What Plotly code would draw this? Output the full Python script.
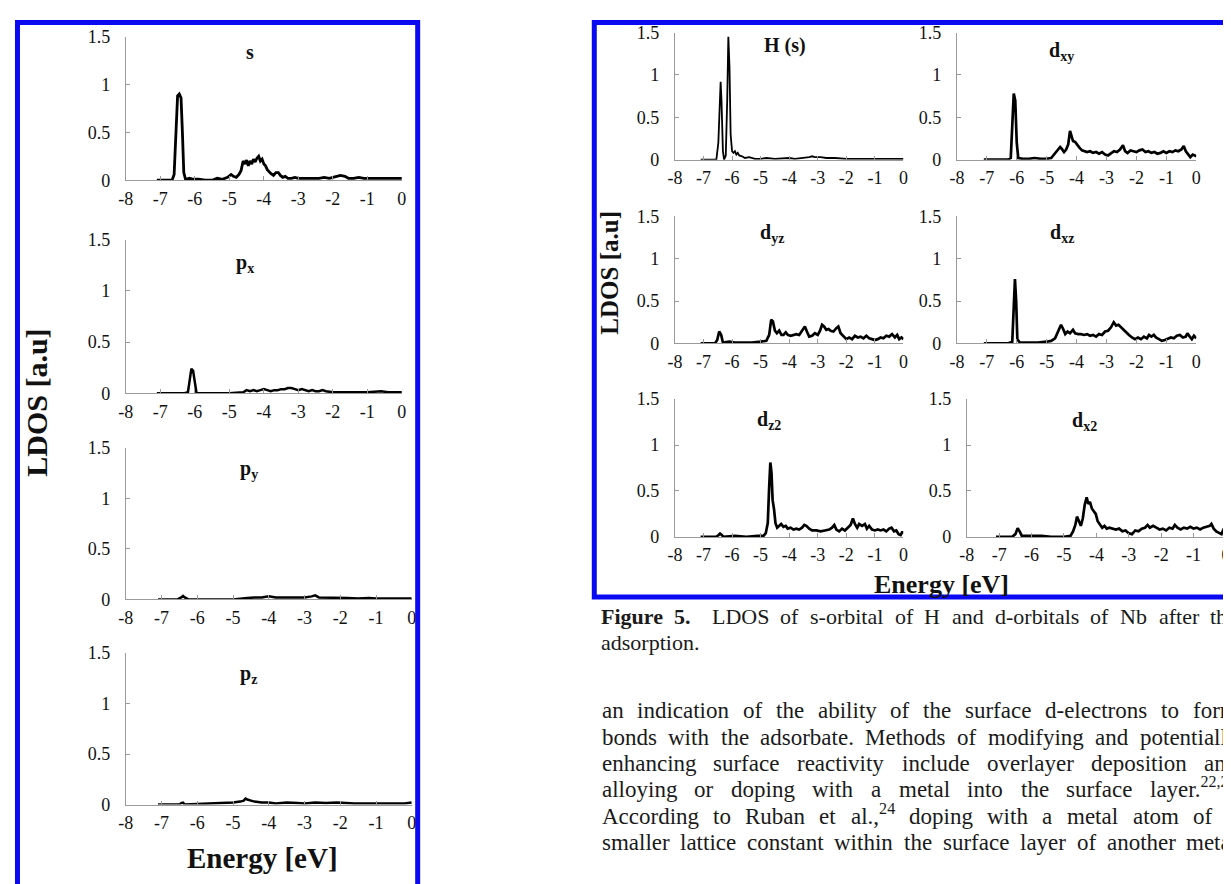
import re
import plotly.graph_objects as go

FONT = "Liberation Serif"
OFF = 8                      # default page margin of the html body
FIG_W, FIG_H = 1231 - OFF, 884 - OFF

# ---------------- data (energy [eV], LDOS [a.u]) ----------------
ENERGY_TICKS = [-8, -7, -6, -5, -4, -3, -2, -1, 0]
ENERGY_TICK_TEXT = ["-8", "-7", "-6", "-5", "-4", "-3", "-2", "-1", "0"]
LDOS_TICKS = [0, 0.5, 1, 1.5]
LDOS_TICK_TEXT = ["0", "0.5", "1", "1.5"]

LDOS_S = [(-7.1,0.0),(-6.66,0.0),(-6.6,0.06),(-6.55,0.45),(-6.5,0.88),(-6.45,0.9),(-6.4,0.86),(-6.36,0.5),
          (-6.32,0.08),(-6.27,0.01),(-6.15,0.02),(-6.05,0.01),(-5.9,0.01),(-5.7,0.0),(-5.5,0.0),(-5.35,0.02),
          (-5.2,0.01),(-5.05,0.03),(-4.95,0.06),(-4.88,0.04),(-4.8,0.03),(-4.72,0.06),(-4.66,0.1),(-4.6,0.2),
          (-4.55,0.17),(-4.5,0.21),(-4.45,0.15),(-4.4,0.2),(-4.35,0.17),(-4.3,0.22),(-4.25,0.19),(-4.2,0.23),
          (-4.15,0.25),(-4.1,0.2),(-4.05,0.22),(-4.0,0.17),(-3.95,0.15),(-3.9,0.11),(-3.85,0.09),(-3.8,0.07),
          (-3.72,0.05),(-3.65,0.08),(-3.58,0.08),(-3.52,0.05),(-3.45,0.03),(-3.38,0.04),(-3.3,0.02),(-3.2,0.02),
          (-3.1,0.03),(-3.0,0.02),(-2.8,0.02),(-2.6,0.02),(-2.4,0.02),(-2.25,0.03),(-2.1,0.02),(-2.0,0.03),
          (-1.9,0.04),(-1.78,0.05),(-1.65,0.04),(-1.55,0.02),(-1.4,0.02),(-1.25,0.03),(-1.1,0.02),(-0.9,0.02),
          (-0.7,0.02),(-0.5,0.02),(-0.3,0.02),(-0.1,0.02),(0.0,0.02)]

LDOS_PX = [(-7.1,0.0),(-6.3,0.0),(-6.2,0.01),(-6.15,0.12),(-6.1,0.24),(-6.05,0.22),(-6.0,0.08),(-5.95,0.0),
           (-5.0,0.0),(-4.6,0.01),(-4.5,0.03),(-4.4,0.02),(-4.3,0.03),(-4.2,0.02),(-4.1,0.03),(-4.0,0.04),
           (-3.9,0.03),(-3.8,0.02),(-3.7,0.03),(-3.6,0.03),(-3.5,0.04),(-3.4,0.04),(-3.3,0.05),(-3.2,0.05),
           (-3.1,0.04),(-3.0,0.03),(-2.9,0.04),(-2.8,0.03),(-2.7,0.02),(-2.6,0.03),(-2.5,0.02),(-2.4,0.02),
           (-2.3,0.03),(-2.2,0.02),(-2.0,0.01),(-1.8,0.01),(-1.5,0.01),(-1.0,0.01),(-0.6,0.02),(-0.4,0.01),
           (0.0,0.01)]

LDOS_PY = [(-7.1,0.0),(-6.55,0.0),(-6.45,0.02),(-6.4,0.035),(-6.35,0.02),(-6.25,0.0),(-5.0,0.0),(-4.8,0.01),
           (-4.6,0.015),(-4.4,0.02),(-4.2,0.02),(-4.0,0.03),(-3.8,0.02),(-3.6,0.02),(-3.4,0.02),(-3.2,0.02),
           (-3.0,0.02),(-2.8,0.03),(-2.7,0.04),(-2.6,0.02),(-2.4,0.02),(-2.2,0.02),(-2.0,0.02),(-1.8,0.015),
           (-1.5,0.01),(-1.2,0.015),(-1.0,0.01),(-0.6,0.01),(-0.3,0.015),(0.0,0.01)]

LDOS_PZ = [(-7.1,0.0),(-6.5,0.0),(-6.45,0.015),(-6.4,0.02),(-6.35,0.0),(-6.0,0.005),(-5.5,0.01),(-5.2,0.01),
           (-5.0,0.02),(-4.8,0.03),(-4.7,0.04),(-4.65,0.06),(-4.6,0.05),(-4.5,0.04),(-4.4,0.03),(-4.2,0.02),
           (-4.0,0.02),(-3.8,0.01),(-3.5,0.02),(-3.2,0.015),(-3.0,0.01),(-2.7,0.02),(-2.4,0.015),(-2.1,0.02),
           (-1.9,0.015),(-1.6,0.01),(-1.3,0.01),(-1.0,0.01),(-0.5,0.01),(-0.2,0.01),(0.0,0.02)]

LDOS_H_S = [(-7.1,0.0),(-6.55,0.0),(-6.48,0.2),(-6.43,0.7),(-6.4,0.92),(-6.37,0.7),(-6.32,0.1),(-6.28,0.0),
            (-6.22,0.05),(-6.17,0.7),(-6.13,1.45),(-6.09,1.1),(-6.05,0.3),(-6.0,0.1),(-5.95,0.08),(-5.9,0.1),
            (-5.85,0.06),(-5.8,0.08),(-5.75,0.05),(-5.65,0.04),(-5.55,0.02),(-5.4,0.03),(-5.2,0.01),(-5.0,0.01),
            (-4.8,0.02),(-4.5,0.01),(-4.2,0.02),(-4.0,0.02),(-3.8,0.01),(-3.5,0.02),(-3.3,0.03),(-3.2,0.04),
            (-3.1,0.03),(-2.9,0.03),(-2.7,0.02),(-2.4,0.02),(-2.0,0.01),(-1.5,0.01),(-1.0,0.01),(-0.5,0.01),
            (0.0,0.01)]

LDOS_DXY = [(-7.1,0.0),(-6.3,0.0),(-6.2,0.02),(-6.15,0.5),(-6.1,0.78),(-6.05,0.7),(-6.0,0.2),(-5.95,0.02),
            (-5.8,0.01),(-5.6,0.01),(-5.4,0.02),(-5.2,0.01),(-5.0,0.01),(-4.85,0.02),(-4.75,0.06),(-4.65,0.1),
            (-4.55,0.15),(-4.5,0.13),(-4.42,0.09),(-4.35,0.12),(-4.28,0.18),(-4.22,0.34),(-4.17,0.28),(-4.12,0.22),
            (-4.05,0.21),(-3.98,0.17),(-3.9,0.14),(-3.82,0.11),(-3.75,0.1),(-3.65,0.09),(-3.55,0.1),(-3.45,0.08),
            (-3.35,0.09),(-3.25,0.07),(-3.15,0.09),(-3.05,0.06),(-2.95,0.05),(-2.85,0.08),(-2.75,0.1),(-2.65,0.09),
            (-2.55,0.12),(-2.45,0.17),(-2.38,0.1),(-2.3,0.08),(-2.2,0.11),(-2.1,0.1),(-2.0,0.09),(-1.9,0.11),
            (-1.8,0.12),(-1.7,0.09),(-1.6,0.1),(-1.5,0.08),(-1.4,0.09),(-1.3,0.07),(-1.2,0.08),(-1.1,0.1),
            (-1.0,0.08),(-0.9,0.1),(-0.8,0.09),(-0.7,0.11),(-0.6,0.1),(-0.5,0.12),(-0.42,0.16),(-0.35,0.1),
            (-0.28,0.07),(-0.2,0.03),(-0.12,0.06),(-0.05,0.05),(0.0,0.04)]

LDOS_DYZ = [(-7.1,0.0),(-6.6,0.0),(-6.52,0.04),(-6.45,0.14),(-6.38,0.1),(-6.32,0.01),(-6.1,0.02),(-5.9,0.01),
            (-5.6,0.01),(-5.3,0.01),(-5.0,0.02),(-4.8,0.03),(-4.7,0.1),(-4.63,0.28),(-4.57,0.26),(-4.5,0.15),
            (-4.43,0.12),(-4.35,0.15),(-4.27,0.1),(-4.2,0.1),(-4.12,0.13),(-4.05,0.1),(-3.95,0.09),(-3.85,0.1),
            (-3.75,0.11),(-3.65,0.1),(-3.55,0.15),(-3.45,0.2),(-3.38,0.14),(-3.3,0.08),(-3.2,0.09),(-3.1,0.12),
            (-3.0,0.1),(-2.92,0.15),(-2.85,0.22),(-2.78,0.2),(-2.7,0.16),(-2.62,0.17),(-2.55,0.15),(-2.45,0.14),
            (-2.35,0.18),(-2.28,0.2),(-2.2,0.12),(-2.1,0.08),(-2.0,0.05),(-1.9,0.07),(-1.8,0.05),(-1.7,0.09),
            (-1.6,0.07),(-1.5,0.08),(-1.4,0.06),(-1.3,0.09),(-1.2,0.06),(-1.1,0.05),(-1.0,0.04),(-0.9,0.05),
            (-0.8,0.07),(-0.7,0.06),(-0.6,0.09),(-0.5,0.08),(-0.4,0.11),(-0.3,0.07),(-0.22,0.1),(-0.15,0.05),
            (-0.07,0.07),(0.0,0.05)]

LDOS_DXZ = [(-7.1,0.0),(-6.3,0.0),(-6.15,0.02),(-6.1,0.5),(-6.06,0.76),(-6.02,0.5),(-5.98,0.05),(-5.9,0.01),
            (-5.6,0.01),(-5.3,0.01),(-5.0,0.02),(-4.85,0.03),(-4.72,0.06),(-4.62,0.15),(-4.52,0.22),(-4.45,0.17),
            (-4.38,0.11),(-4.3,0.14),(-4.22,0.12),(-4.12,0.16),(-4.05,0.12),(-3.95,0.11),(-3.85,0.11),(-3.75,0.1),
            (-3.65,0.11),(-3.55,0.09),(-3.45,0.1),(-3.35,0.08),(-3.25,0.11),(-3.15,0.1),(-3.05,0.14),(-2.95,0.15),
            (-2.85,0.19),(-2.76,0.25),(-2.68,0.21),(-2.6,0.22),(-2.52,0.19),(-2.45,0.17),(-2.35,0.13),(-2.25,0.1),
            (-2.15,0.07),(-2.05,0.05),(-1.95,0.07),(-1.85,0.05),(-1.75,0.08),(-1.65,0.06),(-1.58,0.1),(-1.5,0.08),
            (-1.42,0.1),(-1.35,0.07),(-1.25,0.05),(-1.15,0.03),(-1.05,0.04),(-0.95,0.06),(-0.85,0.07),(-0.75,0.06),
            (-0.65,0.09),(-0.55,0.1),(-0.45,0.07),(-0.35,0.08),(-0.3,0.12),(-0.22,0.08),(-0.15,0.05),(-0.08,0.09),
            (0.0,0.06)]

LDOS_DZ2 = [(-7.1,0.0),(-6.55,0.0),(-6.47,0.02),(-6.42,0.035),(-6.36,0.02),(-6.3,0.0),(-5.9,0.01),(-5.5,0.0),
            (-5.1,0.01),(-4.9,0.01),(-4.82,0.04),(-4.75,0.15),(-4.7,0.55),(-4.66,0.81),(-4.62,0.7),(-4.58,0.4),
            (-4.53,0.3),(-4.48,0.15),(-4.42,0.1),(-4.35,0.12),(-4.28,0.14),(-4.2,0.11),(-4.12,0.12),(-4.05,0.09),
            (-3.95,0.1),(-3.85,0.08),(-3.75,0.09),(-3.65,0.08),(-3.55,0.1),(-3.47,0.13),(-3.4,0.12),(-3.3,0.09),
            (-3.2,0.07),(-3.05,0.07),(-2.9,0.06),(-2.75,0.07),(-2.6,0.08),(-2.5,0.1),(-2.42,0.13),(-2.35,0.08),
            (-2.25,0.06),(-2.15,0.09),(-2.05,0.07),(-1.95,0.1),(-1.85,0.13),(-1.77,0.2),(-1.7,0.14),(-1.62,0.1),
            (-1.55,0.14),(-1.45,0.12),(-1.35,0.14),(-1.28,0.09),(-1.2,0.12),(-1.1,0.08),(-1.0,0.07),(-0.9,0.08),
            (-0.8,0.07),(-0.7,0.08),(-0.6,0.06),(-0.5,0.09),(-0.42,0.1),(-0.33,0.06),(-0.25,0.07),(-0.17,0.03),
            (-0.1,0.02),(-0.05,0.05),(0.0,0.05)]

LDOS_DX2 = [(-7.1,0.0),(-6.6,0.0),(-6.5,0.03),(-6.43,0.095),(-6.37,0.06),(-6.3,0.01),(-6.0,0.01),(-5.7,0.01),
            (-5.4,0.0),(-5.0,0.0),(-4.8,0.01),(-4.72,0.06),(-4.65,0.13),(-4.6,0.22),(-4.55,0.18),(-4.48,0.12),
            (-4.42,0.2),(-4.36,0.35),(-4.3,0.43),(-4.25,0.36),(-4.2,0.38),(-4.14,0.31),(-4.08,0.28),(-4.02,0.25),
            (-3.96,0.17),(-3.9,0.14),(-3.82,0.1),(-3.75,0.12),(-3.68,0.09),(-3.6,0.1),(-3.5,0.09),(-3.4,0.08),
            (-3.3,0.09),(-3.2,0.06),(-3.1,0.07),(-3.0,0.04),(-2.9,0.03),(-2.8,0.07),(-2.7,0.06),(-2.6,0.09),
            (-2.5,0.1),(-2.42,0.13),(-2.35,0.1),(-2.25,0.12),(-2.15,0.1),(-2.05,0.08),(-1.95,0.09),(-1.85,0.07),
            (-1.75,0.1),(-1.65,0.09),(-1.58,0.13),(-1.5,0.1),(-1.4,0.08),(-1.3,0.1),(-1.2,0.09),(-1.1,0.11),
            (-1.0,0.09),(-0.9,0.1),(-0.8,0.08),(-0.7,0.1),(-0.6,0.11),(-0.5,0.12),(-0.45,0.14),(-0.38,0.09),
            (-0.3,0.06),(-0.22,0.04),(-0.14,0.03),(-0.08,0.08),(0.0,0.08)]

PANEL_TITLES = ["s", "p<sub>x</sub>", "p<sub>y</sub>", "p<sub>z</sub>",
                "H (s)", "d<sub>xy</sub>", "d<sub>yz</sub>", "d<sub>xz</sub>",
                "d<sub>z2</sub>", "d<sub>x2</sub>"]
PANEL_DATA = [LDOS_S, LDOS_PX, LDOS_PY, LDOS_PZ,
              LDOS_H_S, LDOS_DXY, LDOS_DYZ, LDOS_DXZ, LDOS_DZ2, LDOS_DX2]

CAPTION_LINE_1 = ["<b>Figure</b>", "<b>5.</b>", "LDOS", "of", "s-orbital", "of", "H", "and",
                  "d-orbitals", "of", "Nb", "after", "the"]
CAPTION_LINE_2 = "adsorption."
BODY_LINES = [
    ["an", "indication", "of", "the", "ability", "of", "the", "surface", "d-electrons", "to", "form"],
    ["bonds", "with", "the", "adsorbate.", "Methods", "of", "modifying", "and", "potentially"],
    ["enhancing", "surface", "reactivity", "include", "overlayer", "deposition", "and"],
    ["alloying", "or", "doping", "with", "a", "metal", "into", "the", "surface", "layer.<sup>22,23</sup>"],
    ["According", "to", "Ruban", "et", "al.,<sup>24</sup>", "doping", "with", "a", "metal", "atom", "of", "a"],
    ["smaller", "lattice", "constant", "within", "the", "surface", "layer", "of", "another", "metal"],
]

# ---------------- geometry (pixels of the 1231x884 page) ----------------
# (x_left, x_right, y_top, y_bottom, title_x, title_y, line_width)
PANEL_BOXES = [
    (119, 398, 27, 174, 245, 43, 2.8),
    (119, 398, 235, 392, 239, 259, 2.5),
    (119, 408, 448, 603, 243, 470, 2.5),
    (119, 408, 658, 813, 243, 680, 2.5),
    (674, 905, 23, 153, 785, 36, 1.8),
    (959, 1201, 23, 153, 1065, 42, 2.7),
    (674, 905, 211, 341, 772, 229, 2.7),
    (959, 1201, 211, 341, 1065, 229, 2.7),
    (674, 905, 398, 539, 769, 420, 2.7),
    (969, 1231, 398, 539, 1088, 421, 2.7),
]

# Times / Liberation Serif advance widths (1/1000 em), used only to justify text lines
_REG = dict(zip("abcdefghijklmnopqrstuvwxyz",
                [444, 500, 444, 500, 444, 333, 500, 500, 278, 278, 500, 278, 778, 500, 500, 500, 500, 333,
                 389, 278, 500, 500, 722, 500, 500, 444]))
_REG.update(dict(zip("ABCDEFGHIJKLMNOPQRSTUVWXYZ",
                     [722, 667, 667, 722, 611, 556, 722, 722, 333, 389, 722, 611, 889, 722, 722, 556, 722,
                      667, 556, 611, 722, 722, 944, 722, 722, 611])))
_REG.update({c: 500 for c in "0123456789"})
_REG.update({" ": 250, ".": 250, ",": 250, "-": 333, "(": 333, ")": 333})
_BOLD = dict(_REG)
_BOLD.update({"F": 611, "i": 278, "g": 500, "u": 556, "r": 444, "e": 444, ".": 250})


def word_width(word, size):
    table = _BOLD if word.startswith("<b>") else _REG
    total = 0.0
    for part in re.split(r"(<sup>.*?</sup>)", word):
        scale = 0.7 if part.startswith("<sup>") else 1.0
        for ch in re.sub(r"<[^>]+>", "", part):
            total += table.get(ch, 500) * scale
    return total * size / 1000.0


def px_x(v):
    return (v - OFF) / FIG_W


def px_y(v):
    return 1 - (v - OFF) / FIG_H


fig = go.Figure()
annotations = []
layout_axes = {}
for i, (data, title, box) in enumerate(zip(PANEL_DATA, PANEL_TITLES, PANEL_BOXES), start=1):
    xl, xr, yt, yb, tx, ty, lw = box
    sfx = "" if i == 1 else str(i)
    fig.add_trace(go.Scatter(
        x=[p[0] for p in data], y=[p[1] for p in data],
        mode="lines", line=dict(color="black", width=lw),
        xaxis="x" + sfx, yaxis="y" + sfx, showlegend=False, hoverinfo="skip"))
    layout_axes["xaxis" + sfx] = dict(
        domain=[px_x(xl), min(1.0, px_x(xr))], anchor="y" + sfx, range=[-8, 0],
        tickmode="array", tickvals=ENERGY_TICKS, ticktext=ENERGY_TICK_TEXT,
        ticks="inside", ticklen=4, tickwidth=1, tickcolor="#9a9a9a",
        showline=True, linecolor="#9a9a9a", linewidth=1,
        showgrid=False, zeroline=False, fixedrange=True,
        ticklabelstandoff=2,
        tickfont=dict(family=FONT, size=18, color="#111"))
    layout_axes["yaxis" + sfx] = dict(
        domain=[px_y(yb), px_y(yt)], anchor="x" + sfx, range=[0, 1.5],
        tickmode="array", tickvals=LDOS_TICKS, ticktext=LDOS_TICK_TEXT,
        ticks="inside", ticklen=4, tickwidth=1, tickcolor="#9a9a9a",
        showline=True, linecolor="#9a9a9a", linewidth=1,
        showgrid=False, zeroline=False, fixedrange=True,
        ticklabelstandoff=11,
        tickfont=dict(family=FONT, size=18, color="#111"))
    annotations.append(dict(
        text="<b>" + title + "</b>", x=px_x(tx), y=px_y(ty), xref="paper", yref="paper",
        xanchor="center", yanchor="middle", showarrow=False,
        font=dict(family=FONT, size=20, color="#111")))

# axis titles
for text, x, y, size, angle in [("<b>LDOS [a.u]</b>", 28, 402, 30, -90),
                                ("<b>Energy [eV]</b>", 257, 868, 29, 0),
                                ("<b>LDOS [a.u]</b>", 607, 269, 25, -90),
                                ("<b>Energy [eV]</b>", 943, 588, 26, 0)]:
    annotations.append(dict(text=text, x=px_x(x), y=px_y(y), textangle=angle,
                            xref="paper", yref="paper", xanchor="center", yanchor="middle",
                            showarrow=False, font=dict(family=FONT, size=size, color="#111")))


def justified(words, x0, x1, y_mid, size, first_gap_weight=None):
    widths = [word_width(w, size) for w in words]
    weights = [1.0] * (len(words) - 1)
    if first_gap_weight:
        weights[1] = first_gap_weight
    gap_unit = (x1 - x0 - sum(widths)) / sum(weights)
    x = x0
    out = []
    for k, (w, wd) in enumerate(zip(words, widths)):
        out.append(dict(text=w, x=px_x(x), y=px_y(y_mid + 0.55 * size), xref="paper", yref="paper",
                        xanchor="left", yanchor="bottom", showarrow=False, borderpad=0,
                        font=dict(family=FONT, size=size, color="#1a1a1a")))
        if k < len(weights):
            x += wd + gap_unit * weights[k]
    return out


CAP_SIZE, BODY_SIZE = 22, 23
TEXT_X0, TEXT_X1 = 598, 1241
annotations += justified(CAPTION_LINE_1, TEXT_X0, TEXT_X1, 622, CAP_SIZE, first_gap_weight=1.8)
annotations.append(dict(text=CAPTION_LINE_2, x=px_x(TEXT_X0), y=px_y(649 + 0.55 * CAP_SIZE),
                        xref="paper", yref="paper", xanchor="left", yanchor="bottom", showarrow=False,
                        borderpad=0, font=dict(family=FONT, size=CAP_SIZE, color="#1a1a1a")))
for k, words in enumerate(BODY_LINES):
    annotations += justified(words, TEXT_X0 + 1, TEXT_X1, 718 + 27 * k, BODY_SIZE)

BLUE = "#0a0af2"
shapes = [
    dict(type="rect", xref="paper", yref="paper", x0=px_x(9.5), x1=px_x(414), y0=px_y(900), y1=px_y(12.5),
         line=dict(color=BLUE, width=5), layer="above"),
    dict(type="rect", xref="paper", yref="paper", x0=px_x(592.5), x1=px_x(1250), y0=px_y(600.5), y1=px_y(12.5),
         line=dict(color=BLUE, width=5), layer="above"),
]

fig.update_layout(
    width=FIG_W, height=FIG_H, margin=dict(l=0, r=0, t=0, b=0),
    paper_bgcolor="white", plot_bgcolor="white",
    annotations=annotations, shapes=shapes, showlegend=False,
    font=dict(family=FONT, color="#111"),
    **layout_axes)

fig.write_html("out.html", config={"displayModeBar": False})
